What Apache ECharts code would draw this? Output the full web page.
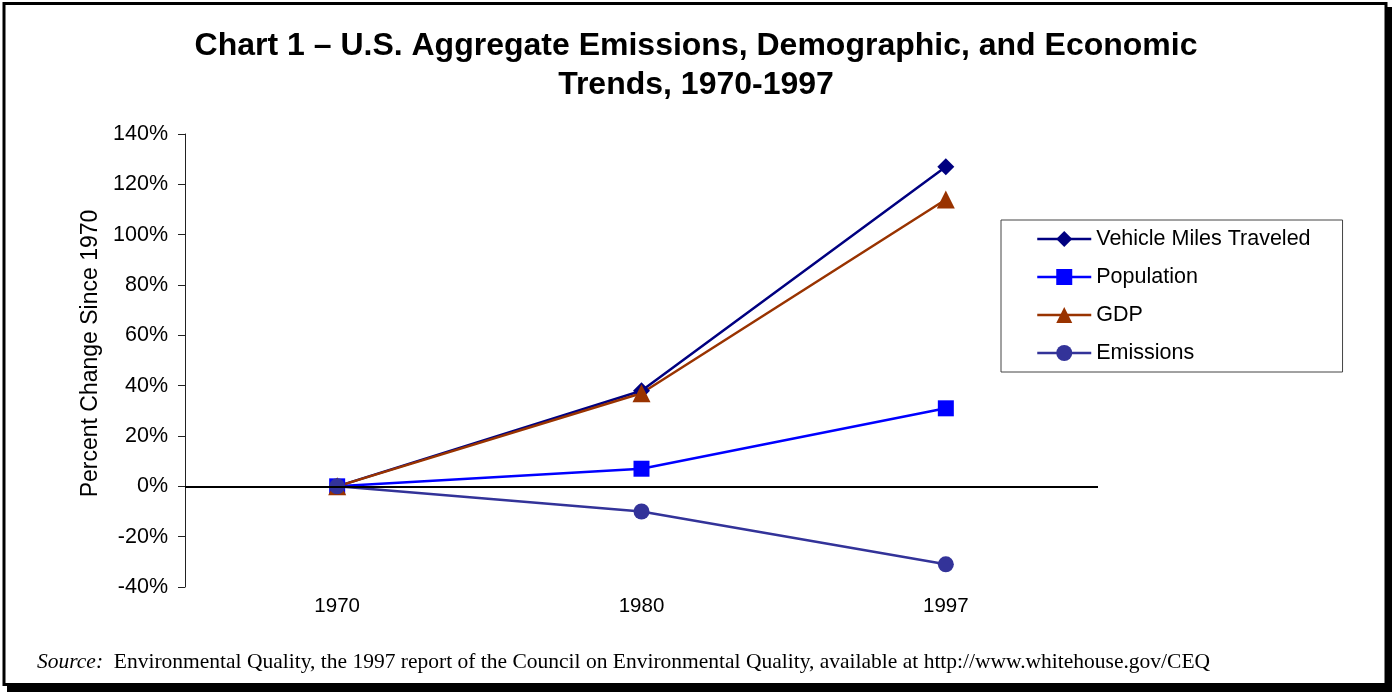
<!DOCTYPE html>
<html>
<head>
<meta charset="utf-8">
<style>
  html, body { margin: 0; padding: 0; background: #fff; }
  #chart { width: 1392px; height: 692px; }
</style>
<script src="https://cdn.jsdelivr.net/npm/echarts@6/dist/echarts.min.js"></script>
</head>
<body>
<div id="chart"></div>
<script>
const categories = ['1970', '1980', '1997'];
const vmt = [0, 38, 127];
const population = [0, 7, 31];
const gdp = [0, 37, 114];
const emissions = [0, -10, -31];
const seriesNames = ['Vehicle Miles Traveled', 'Population', 'GDP', 'Emissions'];
const yMin = -40, yMax = 140, yStep = 20;

const chart = echarts.init(document.getElementById('chart'));
const font = 'Arial, "Liberation Sans", sans-serif';

function lineSeries(name, data, color, symbol, size) {
  return {
    name: name, type: 'line', data: data,
    symbol: symbol, symbolSize: size, showSymbol: true,
    lineStyle: { color: color, width: 2.5 },
    itemStyle: { color: color },
    emphasis: { disabled: true },
    animation: false
  };
}

const s1 = lineSeries(seriesNames[0], vmt, '#000080', 'diamond', 17);
s1.markLine = {
  silent: true, symbol: ['none', 'none'], label: { show: false },
  lineStyle: { color: '#000', width: 2, type: 'solid' },
  data: [{ yAxis: 0 }], animation: false
};

chart.setOption({
  animation: false,
  title: {
    text: 'Chart 1 \u2013 U.S. Aggregate Emissions, Demographic, and Economic\nTrends, 1970-1997',
    left: 'center', top: 27, padding: 0,
    textStyle: { fontFamily: font, fontSize: 32, fontWeight: 'bold', color: '#000', lineHeight: 39 }
  },
  graphic: [
    { type: 'rect', z: -20, shape: { x: 7, y: 7, width: 1385, height: 685 }, style: { fill: '#000' } },
    { type: 'rect', z: -10, shape: { x: 4, y: 3.5, width: 1382, height: 681 }, style: { fill: '#fff', stroke: '#000', lineWidth: 3 } },
    {
      type: 'text', left: 37, top: 651,
      style: {
        text: '{i|Source:}  Environmental Quality, the 1997 report of the Council on Environmental Quality, available at http://www.whitehouse.gov/CEQ',
        fontFamily: '"Liberation Serif", "Times New Roman", serif', fontSize: 21.5, fill: '#000',
        rich: { i: { fontStyle: 'italic', fontFamily: '"Liberation Serif", "Times New Roman", serif', fontSize: 21.5 } }
      }
    }
  ],
  legend: {
    orient: 'vertical', left: 1001, top: 220,
    padding: [8, 32, 8, 35],
    borderColor: '#444', borderWidth: 1,
    itemWidth: 54, itemHeight: 20, itemGap: 16,
    lineStyle: { width: 2.5 },
    textStyle: { fontFamily: font, fontSize: 21.5, color: '#000' },
    data: seriesNames
  },
  grid: { left: 185, top: 134, right: 294, bottom: 105, containLabel: false },
  xAxis: {
    type: 'category', data: categories, boundaryGap: true,
    axisLine: { show: false, onZero: false },
    axisTick: { show: false },
    axisLabel: { fontFamily: font, fontSize: 20.5, color: '#000', margin: 9 }
  },
  yAxis: {
    type: 'value', min: yMin, max: yMax, interval: yStep,
    name: 'Percent Change Since 1970', nameLocation: 'middle', nameGap: 82,
    nameTextStyle: { fontFamily: font, fontSize: 23, color: '#000', padding: [0, 0, 0, 14] },
    axisLine: { show: true, lineStyle: { color: '#222', width: 1 } },
    axisTick: { show: true, length: 7, inside: false, lineStyle: { color: '#222' } },
    splitLine: { show: false },
    axisLabel: { fontFamily: font, fontSize: 21.5, color: '#000', margin: 17, formatter: '{value}%' }
  },
  series: [
    s1,
    lineSeries(seriesNames[1], population, '#0000FF', 'rect', 16),
    lineSeries(seriesNames[2], gdp, '#993300', 'triangle', 18),
    lineSeries(seriesNames[3], emissions, '#333399', 'circle', 16)
  ]
});
</script>
</body>
</html>
